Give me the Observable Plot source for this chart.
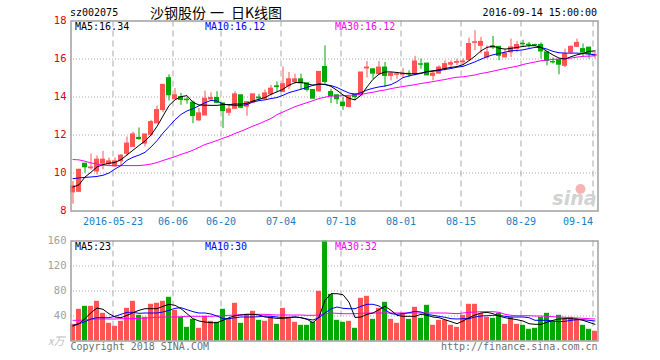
<!DOCTYPE html>
<html><head><meta charset="utf-8">
<script src="https://cdn.jsdelivr.net/npm/d3@7"></script>
<script src="https://cdn.jsdelivr.net/npm/@observablehq/plot@0.6"></script>
<style>
body{margin:0;background:#fff;}
#wrap{position:relative;width:660px;height:360px;overflow:hidden;font-family:"DejaVu Sans Mono","Liberation Mono",monospace;}
#wrap svg{position:absolute;left:0;}
.t{position:absolute;white-space:nowrap;font-size:10px;line-height:12px;}
</style></head><body><div id="wrap"></div>
<script>
// ---- data (trading days 2016-05-12 .. 2016-09-14) ----
const open  = [8.98,9.01,10.49,10.25,10.08,10.49,10.47,10.35,10.62,11.01,11.37,11.85,11.55,12.01,12.61,13.31,14.99,13.88,14.00,13.86,13.70,12.77,13.03,13.87,13.95,13.66,13.17,13.38,14.09,13.49,13.70,13.97,13.91,14.14,14.56,14.26,14.56,14.79,14.93,14.72,14.37,14.30,15.58,14.26,14.09,13.70,13.47,14.14,14.09,15.50,15.46,15.20,15.55,15.11,15.17,15.18,15.22,15.20,15.72,15.76,15.11,15.23,15.46,15.70,15.80,15.83,15.94,16.85,16.69,16.08,16.66,16.64,16.08,16.35,16.53,16.80,16.75,16.74,16.74,16.35,15.84,15.94,15.64,16.34,16.64,16.52,16.60,16.18];
const close = [9.30,10.17,10.30,10.29,10.70,10.70,10.61,10.61,10.91,11.55,12.03,11.78,12.03,12.68,13.31,14.64,14.09,14.09,13.84,13.83,13.00,13.14,13.91,13.95,13.69,13.26,13.35,14.14,13.43,13.73,14.14,13.93,14.19,14.44,14.52,14.67,14.93,14.93,14.72,14.37,13.91,15.32,14.79,14.05,13.88,13.52,14.00,14.00,15.29,15.55,15.23,15.55,15.11,15.23,15.20,15.22,15.19,15.87,15.70,15.14,15.23,15.55,15.73,15.78,15.84,15.87,16.79,16.88,16.90,16.34,16.60,16.17,16.29,16.61,16.74,16.78,16.73,16.73,16.40,15.90,15.82,15.70,16.25,16.64,16.85,16.34,16.25,16.20];
const high  = [9.55,10.20,10.50,11.00,10.90,11.14,10.79,10.79,10.97,11.90,12.15,12.37,12.03,12.77,13.52,14.67,15.17,14.44,14.19,13.97,13.79,13.39,14.31,14.22,14.28,13.66,13.56,14.28,14.09,13.73,14.14,14.14,14.37,14.61,14.79,15.58,15.29,15.20,15.20,14.72,14.37,15.32,16.69,14.41,14.09,13.97,14.00,14.14,15.29,15.87,15.46,15.87,15.82,15.29,15.29,15.50,15.38,16.14,16.00,15.76,15.38,15.64,15.90,15.90,15.99,16.00,17.10,17.49,17.14,16.69,17.19,16.64,16.52,17.05,16.93,16.99,16.87,16.78,16.85,16.35,16.06,15.94,16.52,16.69,17.05,16.79,16.60,16.37];
const low   = [8.36,8.98,10.00,10.15,9.90,10.17,10.35,10.30,10.39,10.88,11.37,11.73,11.37,11.90,12.61,13.17,13.79,13.88,13.56,13.62,12.59,12.70,13.03,13.79,13.66,12.34,12.99,13.35,13.38,12.99,13.70,13.79,13.84,14.05,14.24,14.23,14.38,14.67,14.37,14.26,13.91,14.25,14.67,13.65,13.61,13.30,13.43,13.79,14.05,15.00,14.93,15.20,14.50,14.85,14.93,15.00,15.02,15.11,15.46,15.11,14.85,15.20,15.37,15.50,15.64,15.64,15.90,16.44,16.27,15.99,16.50,15.91,16.08,16.08,16.35,16.61,16.57,16.66,15.99,15.64,15.73,15.17,15.55,16.25,16.60,16.08,15.99,16.00];
const ma5   = [9.26,9.38,9.79,10.04,10.32,10.44,10.51,10.56,10.70,10.95,11.20,11.45,11.68,12.00,12.45,13.00,13.55,13.85,14.02,14.07,13.72,13.58,13.57,13.56,13.56,13.60,13.60,13.63,13.63,13.67,13.79,13.88,13.97,14.14,14.27,14.41,14.62,14.76,14.77,14.70,14.62,14.67,14.67,14.56,14.35,14.11,13.93,13.85,14.09,14.53,14.93,15.20,15.32,15.32,15.29,15.25,15.22,15.22,15.26,15.34,15.38,15.43,15.50,15.56,15.60,15.70,15.91,16.15,16.43,16.61,16.68,16.57,16.52,16.56,16.61,16.66,16.70,16.70,16.61,16.40,16.21,16.05,16.00,16.12,16.22,16.29,16.40,16.43];
const ma10  = [9.70,9.74,9.77,9.79,9.82,9.88,10.00,10.21,10.39,10.67,10.83,10.94,11.09,11.37,11.70,12.10,12.45,12.80,13.08,13.27,13.38,13.54,13.70,13.82,13.79,13.63,13.58,13.56,13.56,13.60,13.74,13.81,13.85,13.92,13.97,14.09,14.23,14.32,14.41,14.50,14.62,14.69,14.65,14.60,14.50,14.35,14.21,14.14,14.23,14.37,14.46,14.53,14.58,14.65,14.81,15.02,15.11,15.18,15.24,15.32,15.36,15.39,15.45,15.50,15.57,15.61,15.73,15.85,15.99,16.12,16.22,16.29,16.36,16.43,16.45,16.48,16.55,16.61,16.61,16.52,16.40,16.33,16.31,16.31,16.31,16.29,16.26,16.22];
const ma30  = [10.71,10.69,10.62,10.53,10.47,10.42,10.39,10.39,10.39,10.39,10.39,10.39,10.42,10.47,10.55,10.66,10.76,10.86,10.98,11.08,11.20,11.35,11.50,11.60,11.71,11.83,11.94,12.08,12.20,12.33,12.47,12.59,12.73,12.87,13.07,13.21,13.35,13.49,13.60,13.70,13.81,13.92,13.99,14.05,14.05,14.07,14.09,14.11,14.14,14.20,14.25,14.32,14.37,14.44,14.50,14.55,14.60,14.65,14.71,14.76,14.81,14.87,14.92,14.99,15.04,15.06,15.11,15.16,15.24,15.29,15.36,15.43,15.50,15.56,15.62,15.71,15.78,15.84,15.91,15.94,15.98,16.00,16.01,16.05,16.10,16.14,16.15,16.17];
// volume, 10k shares (x万)
const volume = [26.7,50.7,55.5,55.5,63.5,44.3,28.3,23.5,31.5,52.3,63.5,41.1,37.9,58.7,60.3,63.5,69.9,49.1,37.9,21.9,34.7,20.3,39.5,31.5,29.9,50.7,34.7,60.3,28.3,42.7,47.5,33.1,31.5,37.9,26.7,52.3,37.9,29.9,25.1,25.1,29.9,79.5,160,74.7,33.1,29.9,31.5,20.3,68.3,71.5,34.7,52.3,61.9,34.7,28.3,44.3,34.7,53.9,36.3,57.1,25.1,33.1,33.1,25.1,21.9,41.1,58.7,58.7,44.3,37.9,36.3,44.3,26.7,37.9,26.7,25.1,18.7,20.3,37.9,44.3,31.5,41.1,36.3,37.9,34.7,25.1,18.7,15.5];
const vma5  = [24,27.7,35.7,45.3,52.8,50.7,43.7,38.4,37.3,41.1,45.3,49.1,51.7,51.7,51.7,55.5,58.7,57.1,51.7,43.7,35.7,32,30.4,29.3,29.3,33.1,37.3,40.5,41.6,42.7,42.7,41.6,38.4,37.3,36.3,36.3,37.3,38.4,37.3,34.7,29.3,38.4,65,75.7,75.7,74.1,62,37.6,38.4,42.7,44.8,50.1,55.5,49.1,41.1,39.5,39.5,39.5,42.7,41.1,38.4,37.3,34.1,30.9,27.7,32,37.3,41.6,44.8,45.9,43.7,40,37.3,35.7,34.1,32,27.7,26.7,26.7,29.9,33.1,35.2,35.7,35.7,35.2,33.1,29.9,26.7];
const vma10 = [25.1,27.7,30.9,35.2,37.3,37.3,37.3,39.5,42.7,45.9,45.9,44.3,44.8,44.8,44.8,46.4,49.1,52.3,53.3,50.1,46.9,44.8,44.8,43.2,40,35.7,35.7,37.3,38.4,38.4,38.4,38.9,40,39.5,38.4,37.3,37.9,38.4,37.3,35.2,33.6,37.3,44.8,51.5,54.4,52.3,51.7,51.7,55.5,58.7,58.7,56,50.1,43.7,42.7,43.7,45.3,47.5,46.4,42.7,41.1,39.5,37.9,35.7,35.2,35.7,35.7,38.4,40,40.5,41.1,41.1,39.5,38.4,38.4,38.4,37.3,33.1,33.1,33.1,32,30.9,31.5,33.1,34.1,34.1,33.1,32];
const vma30 = [33.1,33.1,33.6,34.7,35.2,35.2,35.2,35.2,35.7,35.7,35.7,36.3,36.8,37.3,37.9,38.4,38.4,38.4,38.9,39.5,39.5,39.5,39.5,39.5,40,40.5,41.1,41.6,42.1,42.1,42.7,42.7,42.7,42.1,41.6,41.6,41.6,41.6,41.6,41.1,41.1,41.6,43.7,44.8,44.3,43.7,43.7,43.7,44.3,44.8,44.8,44.8,44.8,44.8,44.8,44.8,44.8,44.8,44.8,44.8,44.8,44.8,44.8,44.3,43.7,44.8,45.9,46.4,46.9,46.9,46.9,45.9,42.7,41.1,40.5,40.5,40.5,40,40,39.5,38.9,38.4,37.9,37.3,36.8,36.3,35.7,35.2];
const tickIndex  = [7,17,25,35,45,55,65,75,87];
const tickLabels = ["2016-05-23","06-06","06-20","07-04","07-18","08-01","08-15","08-29","09-14"];
const priceTicks = [8,10,12,14,16,18];
const volTicks   = [40,80,120,160];
const maTitles   = ["MA5:16.34","MA10:16.12","MA30:16.12"];
const volTitles  = ["MA5:23","MA10:30","MA30:32"];
const titleParts = ["沙钢股份","一","日K线图"];

// ---- build ----
const MONO = "'DejaVu Sans Mono','Liberation Mono',monospace";
const UP = "#ff5454", DOWN = "#00a800";
const GRID = "#a8a8a8", FRAME = "#a0a0a0";
const N = open.length;
const days = d3.range(N).map(i => ({i, o: open[i], c: close[i], h: high[i], l: low[i], v: volume[i],
  ma5: ma5[i], ma10: ma10[i], ma30: ma30[i], vma5: vma5[i], vma10: vma10[i], vma30: vma30[i]}));
days.forEach(d => d.col = d.c >= d.o ? UP : DOWN);
const half = 2.5 / 6;
const xDomain = [-half, N - 1 + 3.5 / 6];
const ticks = tickIndex.map((t, k) => ({x: t - 1/3, label: tickLabels[k], last: k === tickIndex.length - 1}));
const style = {fontFamily: MONO, fontSize: "10px", background: "transparent", overflow: "visible"};

const price = Plot.plot({
  width: 660, height: 230, marginLeft: 70, marginRight: 62, marginTop: 20.5, marginBottom: 19.5,
  x: {type: "linear", domain: xDomain, axis: null},
  y: {type: "linear", domain: [8, 18], axis: null},
  style,
  marks: [
    Plot.ruleY([10, 12, 14, 16], {stroke: GRID, strokeDasharray: "1,2"}),
    Plot.ruleX(ticks, {x: "x", stroke: GRID, strokeDasharray: "6,4"}),
    Plot.text(priceTicks, {y: d => d, frameAnchor: "left", dx: -4, textAnchor: "end", text: d => String(d), fill: "#e00000", fontSize: 10.5}),
    Plot.text(ticks.filter(d => !d.last), {x: "x", text: "label", frameAnchor: "bottom", lineAnchor: "top", dy: 6.5, fill: "#1680c8", fontSize: 10}),
    Plot.text(ticks.filter(d => d.last), {x: "x", text: "label", frameAnchor: "bottom", lineAnchor: "top", dy: 6.5, textAnchor: "end", fill: "#1680c8", fontSize: 10}),
    Plot.text(["sina"], {frameAnchor: "bottom-right", dx: -2, dy: -6, fontSize: 19, fontStyle: "italic", fontWeight: "bold", fill: "#d2d2d2", fontFamily: "'DejaVu Sans',sans-serif", textAnchor: "end"}),
    Plot.dot([0], {frameAnchor: "bottom-right", dx: -18, dy: -22, r: 5, fill: "#f6b3b3"}),
    Plot.ruleX(days, {x: "i", y1: "l", y2: "h", stroke: "col"}),
    Plot.rect(days, {x1: d => d.i - half, x2: d => d.i + half, y1: "o", y2: "c", fill: "col", insetTop: -0.5, insetBottom: -0.5}),
    Plot.line(days, {x: "i", y: "ma30", stroke: "#ff00ff", strokeWidth: 1}),
    Plot.line(days, {x: "i", y: "ma10", stroke: "#0000ff", strokeWidth: 1}),
    Plot.line(days, {x: "i", y: "ma5", stroke: "#000000", strokeWidth: 1}),
    Plot.frame({stroke: FRAME, strokeWidth: 1.5, insetLeft: 0.5, insetRight: 0.5})
  ]
});

const vol = Plot.plot({
  width: 660, height: 130, marginLeft: 70, marginRight: 62, marginTop: 10.5, marginBottom: 19.5,
  x: {type: "linear", domain: xDomain, axis: null},
  y: {type: "linear", domain: [0, 160], axis: null},
  style,
  marks: [
    Plot.ruleY([40, 80, 120], {stroke: GRID, strokeDasharray: "1,2"}),
    Plot.ruleX(ticks, {x: "x", stroke: GRID, strokeDasharray: "6,4"}),
    Plot.text(volTicks, {y: d => d, frameAnchor: "left", dx: -4, textAnchor: "end", text: d => String(d), fill: "#a0a0a0", fontSize: 10.5}),
    Plot.text(["x万"], {y: [0], frameAnchor: "left", dx: -6, textAnchor: "end", fill: "#c0c0c0", fontSize: 11, fontStyle: "italic", fontFamily: "'Noto Sans CJK SC',sans-serif"}),
    Plot.rect(days, {x1: d => d.i - half, x2: d => d.i + half, y1: 0, y2: "v", fill: "col"}),
    Plot.line(days, {x: "i", y: "vma30", stroke: "#ff00ff", strokeWidth: 1}),
    Plot.line(days, {x: "i", y: "vma10", stroke: "#0000ff", strokeWidth: 1}),
    Plot.line(days, {x: "i", y: "vma5", stroke: "#000000", strokeWidth: 1}),
    Plot.text(["Copyright 2018 SINA.COM"], {frameAnchor: "bottom-left", lineAnchor: "top", dy: 2, fill: "#707070", fontSize: 10}),
    Plot.text(["http://finance.sina.com.cn"], {frameAnchor: "bottom-right", lineAnchor: "top", dy: 2, dx: -1, textAnchor: "end", fill: "#707070", fontSize: 10}),
    Plot.frame({stroke: FRAME, strokeWidth: 1.5, insetLeft: 0.5, insetRight: 0.5})
  ]
});

const wrap = document.getElementById("wrap");
price.style.top = "0px";
vol.style.top = "230px";
wrap.appendChild(price);
wrap.appendChild(vol);

function label(text, left, top, color, extra) {
  const d = document.createElement("div");
  d.className = "t";
  d.textContent = text;
  d.style.left = left + "px";
  d.style.top = top + "px";
  d.style.color = color;
  if (extra) Object.assign(d.style, extra);
  wrap.appendChild(d);
  return d;
}
const maColors = ["#000000", "#0000ff", "#ff00ff"];
const maLeft = [75, 205, 335];
maTitles.forEach((t, k) => label(t, maLeft[k], 21, maColors[k]));
volTitles.forEach((t, k) => label(t, maLeft[k], 241, maColors[k]));
label("sz002075", 70, 7, "#000");
label("2016-09-14 15:00:00", 0, 7, "#000", {left: "auto", right: "63px"});
const titleLeft = [150, 210, 231];
titleParts.forEach((t, k) => label(t, titleLeft[k], 3, "#000", {fontSize: "14px", lineHeight: "18px", fontFamily: "'Noto Sans CJK SC',sans-serif"}));
</script>
</body></html>
